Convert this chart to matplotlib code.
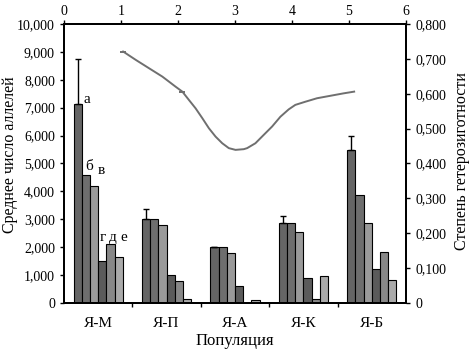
import numpy as np
import matplotlib
matplotlib.use("Agg")
import matplotlib.pyplot as plt
from matplotlib.ticker import FuncFormatter, FixedLocator

plt.rcParams['font.family'] = ['Liberation Serif', 'DejaVu Serif']
plt.rcParams['font.size'] = 10

# populations and six bar series (left axis, mean number of alleles)
populations = ['Я-М', 'Я-П', 'Я-А', 'Я-К', 'Я-Б']
bar_a = [7130, 3010, 2000, 2850, 5480]
bar_b = [4600, 3000, 1990, 2850, 3870]
bar_v = [4200, 2800, 1800, 2560, 2850]
bar_g = [1500, 1010, 620, 910, 1210]
bar_d = [2100, 800, 0, 150, 1810]
bar_e = [1650, 150, 120, 975, 810]
err_a = [1620, 360, 0, 280, 510]
letters = ['а', 'б', 'в', 'г', 'д', 'е']

# heterozygosity line (top x axis 0..6, right y axis 0..0.8)
het_x = [1.037, 1.259, 1.492, 1.726, 1.959, 2.076, 2.192, 2.309, 2.426, 2.542,
         2.659, 2.776, 2.891, 3.009, 3.154, 3.213, 3.358, 3.504, 3.651, 3.796,
         3.941, 4.058, 4.233, 4.438, 4.670, 4.903, 5.090]
het_y = [0.721, 0.697, 0.673, 0.649, 0.620, 0.606, 0.582, 0.558, 0.530, 0.501,
         0.477, 0.458, 0.444, 0.439, 0.441, 0.444, 0.458, 0.482, 0.506, 0.534,
         0.555, 0.568, 0.577, 0.587, 0.594, 0.601, 0.606]
marked = [0, 5]

colors = ['#656565', '#6e6e6e', '#9a9a9a', '#5b5b5b', '#888888', '#aaaaaa']

fig = plt.figure(figsize=(4.73, 3.55), dpi=100)
ax = fig.add_axes([0.1353, 0.1465, 0.7231, 0.786])

series = [bar_a, bar_b, bar_v, bar_g, bar_d, bar_e]
width = 0.12
x = np.arange(len(populations)) + 0.5
for i, vals in enumerate(series):
    pos = x + (i - 2.5) * width
    if i == 0:
        yerr = [np.zeros(len(err_a)), err_a]
        ax.bar(pos, vals, width, color=colors[i], edgecolor='black', linewidth=0.8,
               yerr=yerr, error_kw=dict(ecolor='black', elinewidth=1, capsize=2.5, capthick=1))
    else:
        ax.bar(pos, vals, width, color=colors[i], edgecolor='black', linewidth=0.8)

# letters over the first group
ax.text(0.28, 7280, letters[0], ha='left', va='center', fontsize=11)
ax.text(0.37, 4900, letters[1], ha='center', va='center', fontsize=11)
ax.text(0.54, 4740, letters[2], ha='center', va='center', fontsize=11)
ax.text(0.57, 2330, letters[3], ha='center', va='center', fontsize=11)
ax.text(0.715, 2330, letters[4], ha='center', va='center', fontsize=11)
ax.text(0.875, 2330, letters[5], ha='center', va='center', fontsize=11)

ax.set_xlim(0, 5)
ax.set_ylim(0, 10000)
ax.set_yticks(np.arange(0, 10001, 1000))
ax.yaxis.set_major_formatter(FuncFormatter(lambda v, p: '0' if v == 0 else f'{int(v):,}'))
ax.xaxis.set_major_locator(FixedLocator([1, 2, 3, 4]))
ax.xaxis.set_major_formatter(FuncFormatter(lambda v, p: ''))
ax.xaxis.set_minor_locator(FixedLocator(list(x)))
ax.set_xticklabels(populations, minor=True)
ax.tick_params(axis='x', which='minor', length=0, pad=10, labelsize=11)
ax.tick_params(axis='both', which='major', direction='out', length=3, width=1)
ax.set_xlabel('Популяция', fontsize=12, labelpad=2)
ax.set_ylabel('Среднее число аллелей', fontsize=11.5, va='center')
ax.yaxis.set_label_coords(-0.157, 0.53)

ax2 = ax.twinx()
ax2.set_ylim(0, 0.8)
ax2.set_yticks(np.arange(0, 0.81, 0.1))
ax2.yaxis.set_major_formatter(FuncFormatter(lambda v, p: '0' if abs(v) < 1e-9 else f'{v:.3f}'.replace('.', ',')))
ax2.tick_params(axis='y', direction='out', length=3, width=1)
ax2.set_ylabel('Степень гетерозиготности', fontsize=11.5, va='center')
ax2.yaxis.set_label_coords(1.163, 0.51)

ax3 = ax2.twiny()
ax3.set_xlim(0, 6)
ax3.set_xticks(range(0, 7))
ax3.tick_params(axis='x', direction='out', length=3, width=1, pad=1)
ax3.plot(het_x, het_y, color='#6f6f6f', linewidth=1.4)
ax3.plot([het_x[k] for k in marked], [het_y[k] for k in marked], linestyle='none',
         marker='_', markersize=5, color='#6f6f6f', markeredgewidth=1.4)

for a in (ax, ax2, ax3):
    for s in a.spines.values():
        s.set_linewidth(1.2)

fig.savefig('out.png', dpi=100)
